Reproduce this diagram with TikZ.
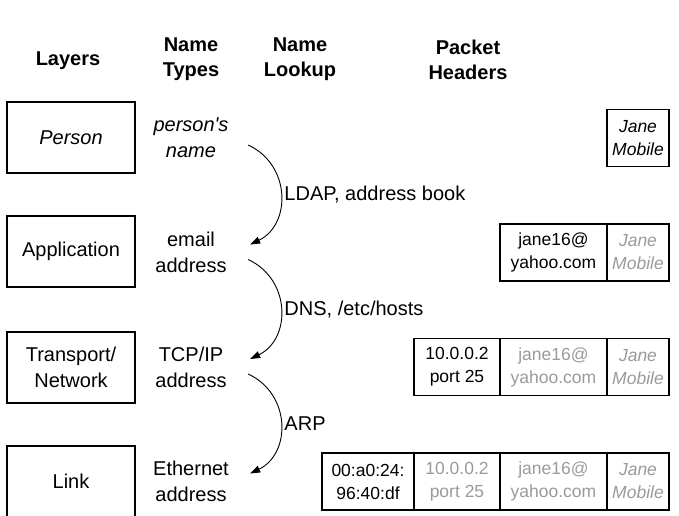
\documentclass[tikz,border=0pt]{standalone}
\usepackage{fontspec}
\setmainfont{Liberation Sans}[Ligatures=TeXOff]
\usetikzlibrary{arrows.meta}
\definecolor{faded}{HTML}{9A9A9A}
\tikzset{
  every node/.style={font=\fontsize{20}{26}\selectfont, align=center},
  slanted/.style={font=\fontsize{20}{26}\selectfont\itshape},
  header/.style={font=\fontsize{20}{25}\selectfont\bfseries},
  layer/.style={draw, line width=1.2pt, minimum width=128, minimum height=71},
  nametype/.style={text width=100, inner sep=0pt},
  cell/.style={draw, line width=1.2pt, minimum height=57, inner sep=0pt, outer sep=0pt,
    font=\fontsize{17.5}{23}\selectfont},
  cellslanted/.style={cell, font=\fontsize{17.5}{23}\selectfont\itshape},
  faint/.style={text=faded},
  lookup/.style={-{Triangle[length=10pt,width=7pt]}, line width=0.9pt}
}
\begin{document}
\begin{tikzpicture}[x=1pt, y=-1pt]
\useasboundingbox (0,0) rectangle (679,515);

\node (hlayers) [header] at (68,61) {Layers};
\node (htypes) [header] at (191,59.5) {Name\\Types};
\node (hlookup) [header] at (300,59.5) {Name\\Lookup};
\node (hpacket) [header] at (468,59.5) {Packet\\Headers};

\node (person) [layer, slanted] at (71,137.5) {Person};
\node (app) [layer] at (71,251.5) {Application};
\node (trans) [layer] at (71,367.5) {Transport/\\Network};
\node (link) [layer] at (71,481.5) {Link};

\node (pname) [nametype, slanted] at (191,138) {person's\\name};
\node (email) [nametype] at (191,252.5) {email\\address};
\node (tcpip) [nametype] at (191,367) {TCP/IP\\address};
\node (ether) [nametype] at (191,481.5) {Ethernet\\address};

\draw [lookup] ([shift={(7,7)}]pname.east) .. controls +(43,20) and +(41,-20) .. ([shift={(9,-8)}]email.east)
  node (ldap) [pos=0.5, anchor=west] {LDAP, address book};
\draw [lookup] ([shift={(7,7)}]email.east) .. controls +(43,20) and +(41,-20) .. ([shift={(9,-8)}]tcpip.east)
  node (dns) [pos=0.5, anchor=west] {DNS, /etc/hosts};
\draw [lookup] ([shift={(7,7)}]tcpip.east) .. controls +(43,20) and +(41,-20) .. ([shift={(9,-8)}]ether.east)
  node (arp) [pos=0.5, anchor=west] {ARP};

% packet headers, one row per layer
\node (p1jane) [cellslanted, minimum width=62] at (638,138) {Jane\\Mobile};

\node (p2mail) [cell, minimum width=107] at (553.5,252.5) {jane16@\\yahoo.com};
\node (p2jane) [cellslanted, faint, minimum width=62] at (638,252.5) {Jane\\Mobile};

\node (p3ip) [cell, minimum width=86] at (457,367) {10.0.0.2\\port 25};
\node (p3mail) [cell, faint, minimum width=107] at (553.5,367) {jane16@\\yahoo.com};
\node (p3jane) [cellslanted, faint, minimum width=62] at (638,367) {Jane\\Mobile};

\node (p4mac) [cell, minimum width=92] at (368,481.5) {00:a0:24:\\96:40:df};
\node (p4ip) [cell, faint, minimum width=86] at (457,481.5) {10.0.0.2\\port 25};
\node (p4mail) [cell, faint, minimum width=107] at (553.5,481.5) {jane16@\\yahoo.com};
\node (p4jane) [cellslanted, faint, minimum width=62] at (638,481.5) {Jane\\Mobile};
\end{tikzpicture}
\end{document}
